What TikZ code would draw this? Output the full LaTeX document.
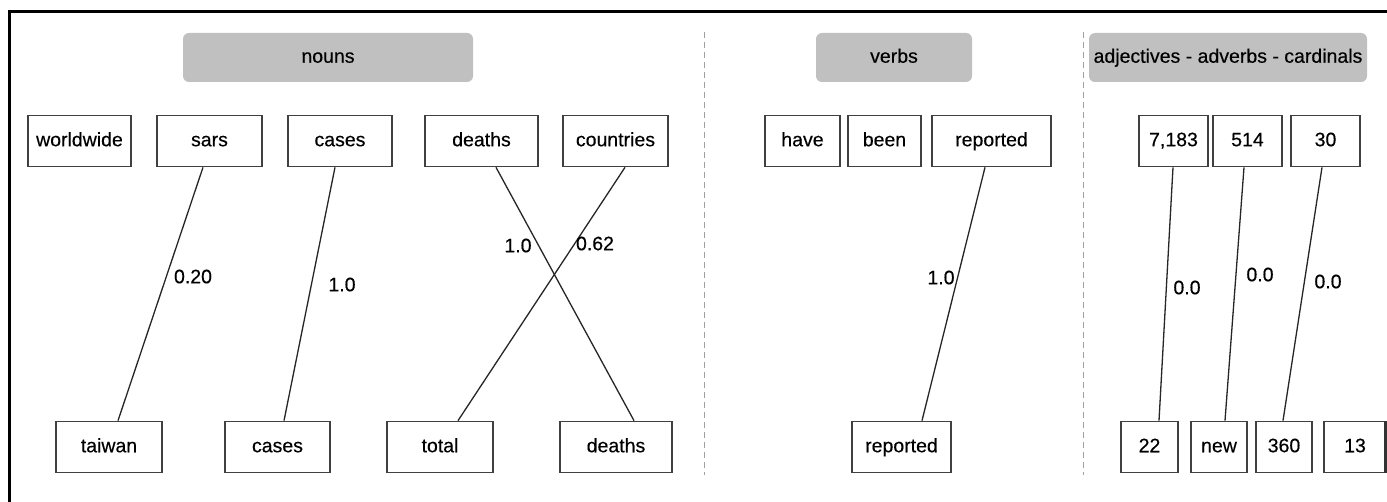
\documentclass[tikz,border=0pt]{standalone}
\usepackage{fontspec}
\setmainfont{Liberation Sans}
\newfontfamily\lblfont{Liberation Sans}[FakeBold=0.35]
\usetikzlibrary{calc}
\definecolor{hdrgray}{HTML}{C0C0C0}
\definecolor{boxline}{HTML}{404040}
\definecolor{sepgray}{HTML}{A0A0A0}
\begin{document}
\begin{tikzpicture}[x=1pt,y=-1pt,
  every node/.style={font=\lblfont\fontsize{19.5}{22}\selectfont, text height=14.5pt, text depth=4pt},
  wbox/.style={draw=boxline, line width=1.7pt, fill=white, minimum height=51pt, inner sep=0pt},
  hdr/.style={fill=hdrgray, rounded corners=6pt, minimum height=49pt, inner sep=0pt},
  link/.style={draw=black!85, line width=1.3pt},
  wlabel/.style={inner sep=0pt},
  sep/.style={draw=sepgray, line width=1pt, dash pattern=on 6pt off 4pt}]
\useasboundingbox (0,0) rectangle (1387,502);
\fill[white] (0,0) rectangle (1387,502);
% frame
\draw[line width=3pt] (9,505) -- (9,12) -- (1390,12);
% separators
\draw[sep] (704,32) -- (704,475);
\draw[sep] (1083,32) -- (1083,475);
% headers
\node[hdr, minimum width=290pt] (hnouns) at (328,57.5) {nouns};
\node[hdr, minimum width=156pt] (hverbs) at (894,57.5) {verbs};
\node[hdr, minimum width=278pt] (hadj) at (1228,57.5) {adjectives - adverbs - cardinals};
% top row
\node[wbox, minimum width=103pt] (worldwide) at (79.5,141) {worldwide};
\node[wbox, minimum width=105pt] (sars) at (209.5,141) {sars};
\node[wbox, minimum width=104pt] (casesA) at (340,141) {cases};
\node[wbox, minimum width=113pt] (deathsA) at (481.5,141) {deaths};
\node[wbox, minimum width=105pt] (countries) at (615.5,141) {countries};
\node[wbox, minimum width=75pt] (have) at (802.5,141) {have};
\node[wbox, minimum width=73pt] (been) at (884.5,141) {been};
\node[wbox, minimum width=119pt] (reportedA) at (991.5,141) {reported};
\node[wbox, minimum width=69pt] (n7183) at (1173.5,141) {7,183};
\node[wbox, minimum width=69pt] (n514) at (1247.5,141) {514};
\node[wbox, minimum width=69pt] (n30) at (1325.5,141) {30};
% bottom row
\node[wbox, minimum width=106pt] (taiwan) at (109,447) {taiwan};
\node[wbox, minimum width=105pt] (casesB) at (277.5,447) {cases};
\node[wbox, minimum width=106pt] (total) at (440,447) {total};
\node[wbox, minimum width=112pt] (deathsB) at (616,447) {deaths};
\node[wbox, minimum width=99pt] (reportedB) at (901.5,447) {reported};
\node[wbox, minimum width=57pt] (n22) at (1149.5,447) {22};
\node[wbox, minimum width=56pt] (new) at (1219,447) {new};
\node[wbox, minimum width=56pt] (n360) at (1284,447) {360};
\node[wbox, minimum width=62pt] (n13) at (1355,447) {13};
\draw[line width=4pt, black!80] ([xshift=-1pt]n13.north east) -- ([xshift=-1pt]n13.south east);
% links
\draw[link] ([xshift=-6.5pt]sars.south) -- ([xshift=9pt]taiwan.north);
\draw[link] ([xshift=-5pt]casesA.south) -- ([xshift=6.5pt]casesB.north);
\draw[link] ([xshift=14.5pt]deathsA.south) -- ([xshift=18pt]deathsB.north);
\draw[link] ([xshift=9.5pt]countries.south) -- ([xshift=18pt]total.north);
\draw[link] ([xshift=-6.5pt]reportedA.south) -- ([xshift=20.5pt]reportedB.north);
\draw[link] ([xshift=-0.5pt]n7183.south) -- ([xshift=9.5pt]n22.north);
\draw[link] ([xshift=-3.5pt]n514.south) -- ([xshift=6pt]new.north);
\draw[link] ([xshift=-3.5pt]n30.south) -- ([xshift=-1pt]n360.north);
% link labels
\node[wlabel] (l1) at (193,278) {0.20};
\node[wlabel] (l2) at (342,286) {1.0};
\node[wlabel] (l3) at (518,247) {1.0};
\node[wlabel] (l4) at (595,245) {0.62};
\node[wlabel] (l5) at (941,279) {1.0};
\node[wlabel] (l6) at (1187,289) {0.0};
\node[wlabel] (l7) at (1260,276) {0.0};
\node[wlabel] (l8) at (1328,283) {0.0};
\end{tikzpicture}
\end{document}
